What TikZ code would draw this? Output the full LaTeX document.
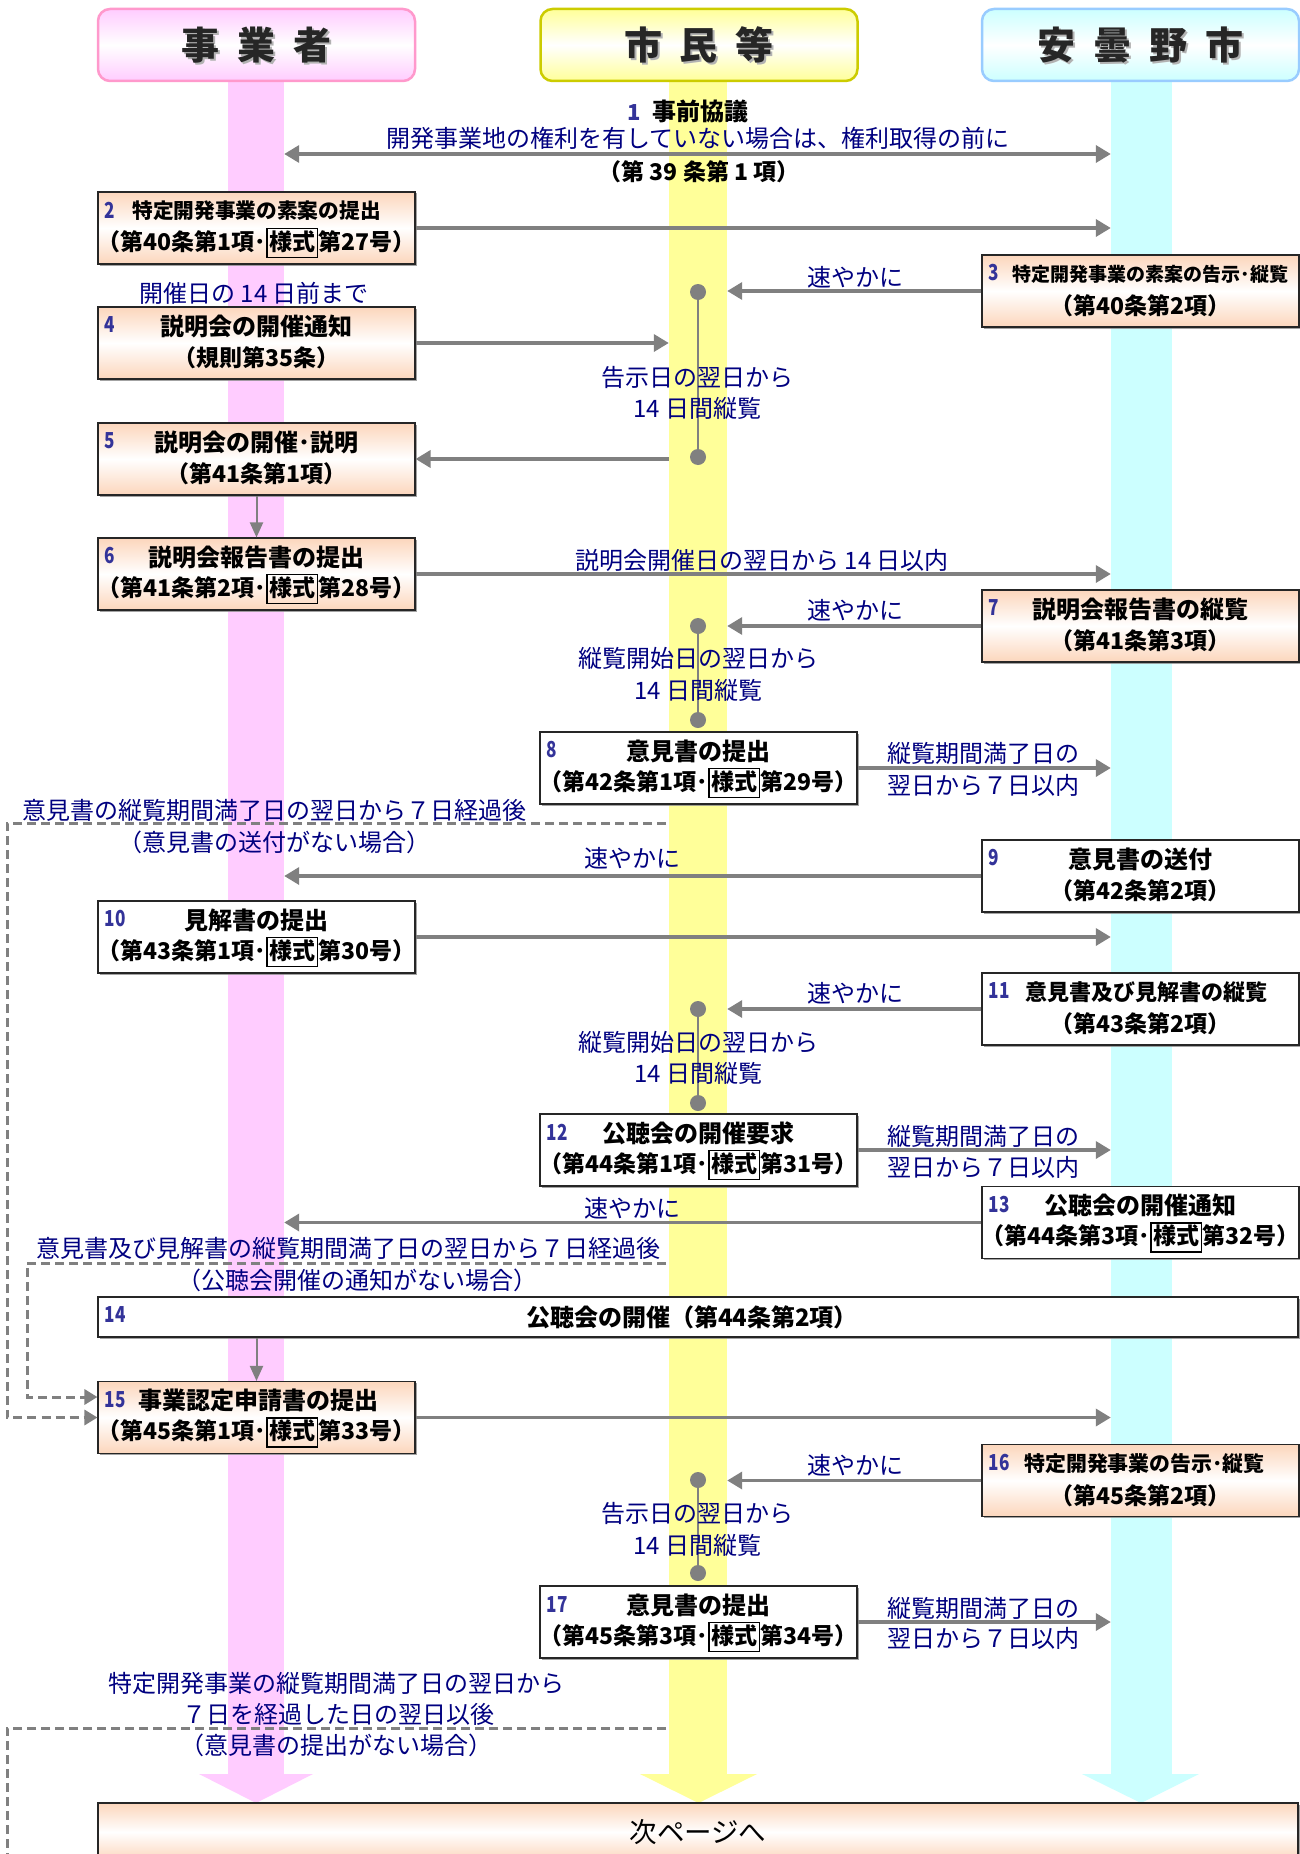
\documentclass[tikz,border=0pt]{standalone}
\usepackage{fontspec}
\setmainfont{Noto Sans CJK JP}
\usetikzlibrary{arrows.meta,shadows}
\definecolor{lpink}{HTML}{FFCCFF}
\definecolor{lyellow}{HTML}{FFFF99}
\definecolor{lcyan}{HTML}{CCFFFF}
\definecolor{bpink}{HTML}{FF99CC}
\definecolor{byellow}{HTML}{CCCC00}
\definecolor{bcyan}{HTML}{99CCFF}
\definecolor{agray}{HTML}{808080}
\definecolor{numblue}{HTML}{333399}
\definecolor{txtblue}{HTML}{000080}
\definecolor{peach}{RGB}{252,214,188}
\newcommand\yk{{\setlength\fboxsep{1.5pt}\setlength\fboxrule{1.3pt}\fbox{\rule[-5pt]{0pt}{23pt}様式}}}
\newcommand\bxt[6]{%
  \node[num,anchor=west] (#1n) at ([xshift=7pt,yshift=18pt]#1.west) {\scalebox{0.78}[1]{#2}};
  \node[bt,font=\bfseries\fontsize{#5}{#5}\selectfont] (#1t) at ([xshift=#6pt,yshift=17pt]#1.center) {#3};
  \node[bs] (#1s) at ([yshift=-15pt]#1.center) {#4};}
\tikzset{
 bt/.style={inner sep=0pt, font=\bfseries\fontsize{24}{26}\selectfont},
 bs/.style={inner sep=0pt, font=\bfseries\fontsize{23}{25}\selectfont},
 num/.style={inner sep=0pt, text=numblue, font=\bfseries\fontsize{22}{24}\selectfont},
 lbl/.style={inner sep=0pt, text=txtblue, font=\fontsize{24}{26}\selectfont},
 pbox/.style={draw=black!85, line width=1.1pt, top color=peach, bottom color=peach, middle color=white, minimum width=317pt, minimum height=72pt, inner sep=0pt, drop shadow={shadow xshift=1.5pt, shadow yshift=-1.5pt, fill=black!45, opacity=0.8}},
 wbox/.style={draw=black!85, line width=1.1pt, fill=white, minimum width=317pt, minimum height=72pt, inner sep=0pt, drop shadow={shadow xshift=1.5pt, shadow yshift=-1.5pt, fill=black!45, opacity=0.8}},
 arr/.style={draw=agray, line width=3.5pt, -{Triangle[length=15pt,width=17pt]}},
 varr/.style={draw=agray, line width=2pt, -{Triangle[length=15pt,width=13pt]}},
 dsh/.style={draw=agray, line width=3pt, dash pattern=on 9pt off 5pt},
 dtip/.style={-{Triangle[length=13pt,width=15pt]}},
 dot/.style={circle, fill=agray, minimum size=16pt, inner sep=0pt},
 lanebar/.style={minimum height=1697pt, inner sep=0pt},
 hdr/.style={rounded corners=12pt, line width=2.5pt, minimum width=317pt, minimum height=72pt, inner sep=0pt},
 htx/.style={inner sep=0pt, text=black!85, font=\bfseries\fontsize{38}{40}\selectfont},
 hsh/.style={inner sep=0pt, text=black!30, font=\bfseries\fontsize{38}{40}\selectfont},
}
\begin{document}
\begin{tikzpicture}[x=1pt,y=-1pt]
\useasboundingbox (0,0) rectangle (1300,1854);
\fill[white] (0,0) rectangle (1300,1854);
% lanes
\node[lanebar,fill=lpink,minimum width=56pt] (lane1) at (256,926.5) {};
\node[lanebar,fill=lyellow,minimum width=58pt] (lane2) at (698,926.5) {};
\node[lanebar,fill=lcyan,minimum width=61pt] (lane3) at (1141.5,926.5) {};
\fill[lpink] (199,1774) -- (313,1774) -- (256,1803) -- cycle;
\fill[lyellow] (640,1774) -- (757,1774) -- (698.5,1803) -- cycle;
\fill[lcyan] (1082,1774) -- (1199,1774) -- (1141,1803) -- cycle;
% headers
\node[hdr,draw=bpink,top color=lpink,bottom color=lpink,middle color=white] (h1) at (256.5,45) {};
\node[hdr,draw=byellow,top color=lyellow,bottom color=lyellow,middle color=white] (h2) at (699,45) {};
\node[hdr,draw=bcyan,top color=lcyan,bottom color=lcyan,middle color=white] (h3) at (1140.5,45) {};
\node[hsh] (h1s) at ([xshift=2pt,yshift=-2pt]h1.center) {事\hspace{18pt}業\hspace{18pt}者};
\node[htx] (h1x) at (h1.center) {事\hspace{18pt}業\hspace{18pt}者};
\node[hsh] (h2s) at ([xshift=2pt,yshift=-2pt]h2.center) {市\hspace{18pt}民\hspace{18pt}等};
\node[htx] (h2x) at (h2.center) {市\hspace{18pt}民\hspace{18pt}等};
\node[hsh] (h3s) at ([xshift=2pt,yshift=-2pt]h3.center) {安\hspace{18pt}曇\hspace{18pt}野\hspace{18pt}市};
\node[htx] (h3x) at (h3.center) {安\hspace{18pt}曇\hspace{18pt}野\hspace{18pt}市};
% boxes
\node[pbox] (b2) at (256.5,228) {};
\node[pbox] (b3) at (1140.5,291) {};
\node[pbox] (b4) at (256.5,343) {};
\node[pbox] (b5) at (256.5,459) {};
\node[pbox] (b6) at (256.5,574) {};
\node[pbox] (b7) at (1140.5,626) {};
\node[wbox] (b8) at (698.5,768) {};
\node[wbox] (b9) at (1140.5,876) {};
\node[wbox] (b10) at (256.5,937) {};
\node[wbox] (b11) at (1140.5,1009) {};
\node[wbox] (b12) at (698.5,1150) {};
\node[wbox] (b13) at (1140.5,1222.5) {};
\node[wbox,minimum width=1200pt,minimum height=40pt] (b14) at (698,1317) {};
\node[pbox] (b15) at (256.5,1417.5) {};
\node[pbox] (b16) at (1140.5,1480.5) {};
\node[wbox] (b17) at (698.5,1622) {};
\node[pbox,minimum width=1200pt,minimum height=58pt] (b18) at (698,1832) {};
% dots
\node[dot] (d3a) at (698,292) {};
\node[dot] (d3b) at (698,457) {};
\node[dot] (d7a) at (698,626) {};
\node[dot] (d7b) at (698,720) {};
\node[dot] (d11a) at (698,1009) {};
\node[dot] (d11b) at (698,1103) {};
\node[dot] (d16a) at (698,1480) {};
\node[dot] (d16b) at (698,1573) {};
\draw[agray,line width=2pt] (d3a) -- (d3b);
\draw[agray,line width=2pt] (d7a) -- (d7b);
\draw[agray,line width=2pt] (d11a) -- (d11b);
\draw[agray,line width=2pt] (d16a) -- (d16b);
% arrows
\coordinate (a1l) at (lane1.east |- 0,154);
\coordinate (a1r) at (lane3.west |- 0,154);
\draw[arr,{Triangle[length=15pt,width=17pt]}-{Triangle[length=15pt,width=17pt]}] (a1l) -- (a1r);
\draw[arr] (b2.east) -- (b2.east -| lane3.west);
\draw[arr] (b3.west) -- (b3.west -| lane2.east);
\draw[arr] (b4.east) -- (b4.east -| lane2.west);
\draw[arr] (b5.east -| lane2.west) -- (b5.east);
\draw[varr] (b5.south) -- (b6.north);
\draw[arr] (b6.east) -- (b6.east -| lane3.west);
\draw[arr] (b7.west) -- (b7.west -| lane2.east);
\draw[arr] (b8.east) -- (b8.east -| lane3.west);
\draw[arr] (b9.west) -- (b9.west -| lane1.east);
\draw[arr] (b10.east) -- (b10.east -| lane3.west);
\draw[arr] (b11.west) -- (b11.west -| lane2.east);
\draw[arr] (b12.east) -- (b12.east -| lane3.west);
\draw[arr] (b13.west) -- (b13.west -| lane1.east);
\draw[varr] (b14.south -| b15.north) -- (b15.north);
\draw[arr] (b15.east) -- (b15.east -| lane3.west);
\draw[arr] (b16.west) -- (b16.west -| lane2.east);
\draw[arr] (b17.east) -- (b17.east -| lane3.west);
% dashed
\coordinate (p1a) at (666,823); \coordinate (p1b) at (7,823); \coordinate (p1c) at (7,1417.5);
\draw[dsh,dtip] (p1a) -- (p1b) -- (p1c) -- (b15.west);
\coordinate (p2a) at (666,1263); \coordinate (p2b) at (27,1263); \coordinate (p2c) at (27,1397);
\draw[dsh,dtip] (p2a) -- (p2b) -- (p2c) -- (p2c -| b15.west);
\coordinate (p3a) at (666,1728); \coordinate (p3b) at (7,1728); \coordinate (p3c) at (7,1870);
\draw[dsh] (p3a) -- (p3b) -- (p3c);
% box texts
\bxt{b2}{2}{特定開発事業の素案の提出}{（第40条第1項･\yk 第27号）}{20.7}{0}
\bxt{b3}{3}{特定開発事業の素案の告示･縦覧}{（第40条第2項）}{19}{10}
\bxt{b4}{4}{説明会の開催通知}{（規則第35条）}{24}{0}
\bxt{b5}{5}{説明会の開催･説明}{（第41条第1項）}{24}{0}
\bxt{b6}{6}{説明会報告書の提出}{（第41条第2項･\yk 第28号）}{24}{0}
\bxt{b7}{7}{説明会報告書の縦覧}{（第41条第3項）}{24}{0}
\bxt{b8}{8}{意見書の提出}{（第42条第1項･\yk 第29号）}{24}{0}
\bxt{b9}{9}{意見書の送付}{（第42条第2項）}{24}{0}
\bxt{b10}{10}{見解書の提出}{（第43条第1項･\yk 第30号）}{24}{0}
\bxt{b11}{11}{意見書及び見解書の縦覧}{（第43条第2項）}{22}{6}
\bxt{b12}{12}{公聴会の開催要求}{（第44条第1項･\yk 第31号）}{24}{0}
\bxt{b13}{13}{公聴会の開催通知}{（第44条第3項･\yk 第32号）}{24}{0}
\node[num,anchor=west] (b14n) at ([xshift=7pt,yshift=3pt]b14.west) {\scalebox{0.78}[1]{14}};
\node[bt] (b14t) at (692,1317) {公聴会の開催（第44条第2項）};
\bxt{b15}{15}{事業認定申請書の提出}{（第45条第1項･\yk 第33号）}{24}{2}
\bxt{b16}{16}{特定開発事業の告示･縦覧}{（第45条第2項）}{20.9}{4}
\bxt{b17}{17}{意見書の提出}{（第45条第3項･\yk 第34号）}{24}{0}
\node[inner sep=0pt,font=\fontsize{27.5}{30}\selectfont] (b18t) at (698,1832) {次ページへ};
% step 1 texts
\node[inner sep=0pt] (t1) at (688,111) {{\color{numblue}\bfseries\fontsize{22}{24}\selectfont 1}\hspace{12pt}{\bfseries\fontsize{24}{26}\selectfont 事前協議}};
\node[lbl] (t1b) at (698,138) {開発事業地の権利を有していない場合は、権利取得の前に};
\node[bs] (t1c) at (699,172) {（第 39 条第 1 項）};
% blue labels
\node[lbl] (l3) at (855,277) {速やかに};
\node[lbl] (l4) at (254,293) {開催日の 14 日前まで};
\node[lbl] (l3a) at (697,377) {告示日の翌日から};
\node[lbl] (l3b) at (697,408) {14 日間縦覧};
\node[lbl] (l6) at (762,560) {説明会開催日の翌日から 14 日以内};
\node[lbl] (l7) at (855,610) {速やかに};
\node[lbl] (l7a) at (698,658) {縦覧開始日の翌日から};
\node[lbl] (l7b) at (698,690) {14 日間縦覧};
\node[lbl] (l8a) at (983,753) {縦覧期間満了日の};
\node[lbl] (l8b) at (983,785) {翌日から７日以内};
\node[lbl] (ld1a) at (274,810) {意見書の縦覧期間満了日の翌日から７日経過後};
\node[lbl] (ld1b) at (274,842) {（意見書の送付がない場合）};
\node[lbl] (l9) at (632,858) {速やかに};
\node[lbl] (l11) at (855,993) {速やかに};
\node[lbl] (l11a) at (698,1042) {縦覧開始日の翌日から};
\node[lbl] (l11b) at (698,1073) {14 日間縦覧};
\node[lbl] (l12a) at (983,1136) {縦覧期間満了日の};
\node[lbl] (l12b) at (983,1167) {翌日から７日以内};
\node[lbl] (l13) at (632,1208) {速やかに};
\node[lbl] (ld2a) at (348,1248) {意見書及び見解書の縦覧期間満了日の翌日から７日経過後};
\node[lbl] (ld2b) at (357,1280) {（公聴会開催の通知がない場合）};
\node[lbl] (l16) at (855,1465) {速やかに};
\node[lbl] (l16a) at (697,1513) {告示日の翌日から};
\node[lbl] (l16b) at (697,1545) {14 日間縦覧};
\node[lbl] (l17a) at (983,1608) {縦覧期間満了日の};
\node[lbl] (l17b) at (983,1638) {翌日から７日以内};
\node[lbl] (ld3a) at (336,1683) {特定開発事業の縦覧期間満了日の翌日から};
\node[lbl] (ld3b) at (338,1714) {７日を経過した日の翌日以後};
\node[lbl] (ld3c) at (336,1745) {（意見書の提出がない場合）};
\end{tikzpicture}
\end{document}
